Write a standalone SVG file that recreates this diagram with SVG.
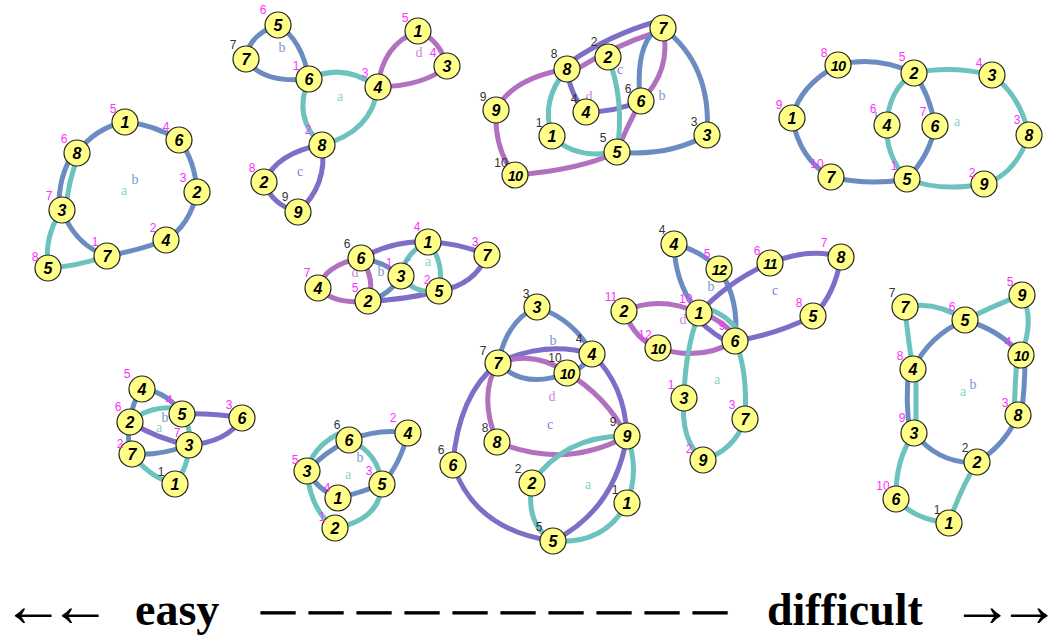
<svg xmlns="http://www.w3.org/2000/svg" width="1056" height="640" viewBox="0 0 1056 640">
<style>
.e{fill:none;stroke-width:5;stroke-linecap:round}
.a{stroke:#6cc3bd}.b{stroke:#6b8cc1}.c{stroke:#7f6ec8}.d{stroke:#b270c0}
.n circle{fill:#ffff88;stroke:#222;stroke-width:1.2}
.n text.v{font-family:"Liberation Sans",Arial,sans-serif;font-weight:bold;font-style:italic;font-size:16px;text-anchor:middle;fill:#000}
.n text.w{font-size:14.5px;letter-spacing:-0.8px}
.m{font-family:"Liberation Sans",Arial,sans-serif;font-size:12px;text-anchor:middle;fill:#ff30ff}
.k{fill:#333}
.r{font-family:"Liberation Serif","Times New Roman",serif;font-size:14px;text-anchor:middle}
.ra{fill:#8cd0cc}.rb{fill:#7a98d0}.rc{fill:#8878d4}.rd{fill:#c88ad4}
.t{font-family:"Liberation Serif","Times New Roman",serif;font-weight:bold;fill:#000}
.ar{font-family:"Liberation Serif","Times New Roman",serif;fill:#000;font-size:62px;letter-spacing:-15px}
</style>
<g id="connectors">
<!-- P1 -->
<path class="e b" d="M77,153 Q95,128 125,122"/>
<path class="e b" d="M125,122 Q155,125 179,140"/>
<path class="e b" d="M179,140 Q195,160 197,192"/>
<path class="e b" d="M197,192 Q190,225 166,240"/>
<path class="e b" d="M166,240 Q140,250 107,256"/>
<path class="e b" d="M62,210 Q75,245 107,256"/>
<path class="e b" d="M59,210 Q58,175 74,153"/>
<path class="e a" d="M79,155 Q68,180 66,210"/>
<path class="e a" d="M62,210 Q44,235 48,268"/>
<path class="e a" d="M48,268 Q75,267 107,256"/>
<!-- P2 -->
<path class="e b" d="M278,25 Q248,35 246,59"/>
<path class="e b" d="M246,59 Q262,84 309,79"/>
<path class="e b" d="M278,25 Q302,40 309,79"/>
<path class="e a" d="M309,79 Q343,62 378,87"/>
<path class="e a" d="M378,87 Q372,132 322,145"/>
<path class="e a" d="M322,145 Q292,118 309,79"/>
<path class="e d" d="M378,87 Q382,45 418,31"/>
<path class="e d" d="M418,31 Q440,40 447,66"/>
<path class="e d" d="M447,66 Q425,86 378,87"/>
<path class="e c" d="M322,145 Q278,152 264,182"/>
<path class="e c" d="M264,182 Q272,205 298,212"/>
<path class="e c" d="M298,212 Q328,185 322,145"/>
<!-- P3 -->
<path class="e d" d="M515,175 Q494,150 496,110"/>
<path class="e d" d="M496,110 Q512,78 567,69"/>
<path class="e c" d="M570,62 Q610,35 655,22"/>
<path class="e d" d="M572,72 Q615,45 657,32"/>
<path class="e d" d="M663,28 Q672,70 641,101"/>
<path class="e d" d="M641,101 Q625,130 617,152"/>
<path class="e d" d="M617,152 Q580,170 515,175"/>
<path class="e c" d="M567,69 Q570,95 586,112"/>
<path class="e c" d="M586,112 Q615,112 641,101"/>
<path class="e a" d="M567,69 Q540,100 552,136"/>
<path class="e a" d="M552,136 Q575,160 617,152"/>
<path class="e a" d="M608,57 Q625,100 617,152"/>
<path class="e b" d="M650,36 Q636,55 640,100"/>
<path class="e b" d="M663,28 Q712,65 707,135"/>
<path class="e b" d="M707,135 Q668,157 617,152"/>
<!-- P4 -->
<path class="e b" d="M838,65 Q875,55 914,73"/>
<path class="e b" d="M838,65 Q800,85 792,118"/>
<path class="e b" d="M792,118 Q800,160 831,177"/>
<path class="e b" d="M831,177 Q870,186 907,179"/>
<path class="e b" d="M907,179 Q930,155 935,126"/>
<path class="e b" d="M935,126 Q930,95 914,73"/>
<path class="e a" d="M914,73 Q950,65 992,75"/>
<path class="e a" d="M992,75 Q1020,95 1029,135"/>
<path class="e a" d="M1029,135 Q1015,175 984,184"/>
<path class="e a" d="M984,184 Q940,192 907,179"/>
<path class="e a" d="M907,179 Q885,155 887,125"/>
<path class="e a" d="M887,125 Q888,90 914,73"/>
<!-- P5 -->
<path class="e c" d="M361,258 Q395,240 428,242"/>
<path class="e c" d="M428,242 Q460,243 487,255"/>
<path class="e c" d="M487,255 Q475,285 439,291"/>
<path class="e c" d="M439,291 Q405,300 368,301"/>
<path class="e b" d="M361,258 Q385,262 401,276"/>
<path class="e b" d="M401,276 Q390,295 368,301"/>
<path class="e a" d="M428,242 Q405,252 401,276"/>
<path class="e a" d="M401,276 Q415,295 439,291"/>
<path class="e a" d="M428,242 Q445,262 439,291"/>
<path class="e d" d="M361,258 Q325,265 318,288"/>
<path class="e d" d="M318,288 Q335,305 368,301"/>
<path class="e d" d="M368,301 Q376,280 361,258"/>
<!-- P6 -->
<path class="e b" d="M674,244 Q700,250 719,269"/>
<path class="e b" d="M674,244 Q675,285 699,313"/>
<path class="e b" d="M719,269 Q740,300 735,341"/>
<path class="e c" d="M699,313 Q730,280 770,263"/>
<path class="e c" d="M770,263 Q810,247 841,257"/>
<path class="e c" d="M841,257 Q835,295 813,316"/>
<path class="e c" d="M813,316 Q775,335 735,341"/>
<path class="e d" d="M624,311 Q660,295 699,313"/>
<path class="e d" d="M624,311 Q635,340 658,348"/>
<path class="e d" d="M658,348 Q700,362 735,341"/>
<path class="e a" d="M699,313 Q685,350 684,398"/>
<path class="e a" d="M684,398 Q680,440 703,460"/>
<path class="e a" d="M703,460 Q735,450 745,419"/>
<path class="e a" d="M745,419 Q748,370 735,341"/>
<path class="e a" d="M703,308 Q726,312 741,335"/>
<path class="e d" d="M701,313 Q723,320 737,338"/>
<path class="e c" d="M697,319 Q715,336 733,345"/>
<!-- P7 -->
<path class="e b" d="M142,389 Q168,392 182,414"/>
<path class="e b" d="M142,389 Q132,402 130,422"/>
<path class="e c" d="M182,414 Q212,413 242,418"/>
<path class="e c" d="M242,418 Q228,442 189,445"/>
<path class="e c" d="M130,422 Q160,440 189,445"/>
<path class="e b" d="M130,422 Q126,440 132,454"/>
<path class="e b" d="M132,454 Q160,456 189,445"/>
<path class="e a" d="M130,422 Q148,406 176,408"/>
<path class="e a" d="M182,414 Q192,428 189,445"/>
<path class="e a" d="M189,445 Q188,468 175,484"/>
<path class="e a" d="M175,484 Q150,478 132,454"/>
<!-- P8 -->
<path class="e b" d="M349,440 Q380,428 408,433"/>
<path class="e b" d="M408,433 Q400,465 382,484"/>
<path class="e b" d="M382,484 Q360,493 338,498"/>
<path class="e b" d="M338,498 Q318,490 307,471"/>
<path class="e b" d="M307,471 Q325,452 349,440"/>
<path class="e a" d="M307,471 Q312,448 338,434"/>
<path class="e a" d="M349,440 Q378,452 382,484"/>
<path class="e a" d="M382,484 Q380,520 335,528"/>
<path class="e a" d="M335,528 Q310,510 307,471"/>
<!-- P9 -->
<path class="e b" d="M537,307 Q507,320 498,363"/>
<path class="e b" d="M537,307 Q575,320 592,354"/>
<path class="e b" d="M498,363 Q525,390 567,373"/>
<path class="e b" d="M567,373 Q583,370 592,354"/>
<path class="e c" d="M498,363 Q545,340 592,354"/>
<path class="e c" d="M592,354 Q625,385 627,436"/>
<path class="e c" d="M627,436 Q615,510 553,541"/>
<path class="e c" d="M553,541 Q475,530 453,465"/>
<path class="e c" d="M453,465 Q458,395 498,363"/>
<path class="e d" d="M498,363 Q535,350 567,373"/>
<path class="e d" d="M567,373 Q605,395 627,436"/>
<path class="e d" d="M627,436 Q565,470 497,442"/>
<path class="e d" d="M497,442 Q478,395 498,363"/>
<path class="e a" d="M627,436 Q565,435 532,483"/>
<path class="e a" d="M532,483 Q525,525 553,541"/>
<path class="e a" d="M553,541 Q605,545 627,503"/>
<path class="e a" d="M627,503 Q640,470 627,436"/>
<!-- P10 -->
<path class="e a" d="M905,307 Q935,300 965,320"/>
<path class="e a" d="M965,320 Q995,305 1022,295"/>
<path class="e a" d="M1022,295 Q1035,320 1021,355"/>
<path class="e a" d="M1017,355 Q1015,385 1014,415"/>
<path class="e b" d="M1025,357 Q1025,390 1021,415"/>
<path class="e a" d="M905,307 Q908,340 913,369"/>
<path class="e a" d="M916,369 L916,433"/>
<path class="e b" d="M909,369 Q905,400 910,433"/>
<path class="e a" d="M914,433 Q895,460 896,499"/>
<path class="e a" d="M896,499 Q915,520 949,523"/>
<path class="e a" d="M949,523 Q960,490 977,462"/>
<path class="e b" d="M965,320 Q930,335 913,369"/>
<path class="e b" d="M965,320 Q1000,330 1021,355"/>
<path class="e b" d="M1018,415 Q1005,445 977,462"/>
<path class="e b" d="M977,462 Q940,465 914,433"/>
</g>
<g id="regionlabels" class="r">
<text class="ra" x="124" y="195">a</text><text class="rb" x="135" y="184">b</text>
<text class="rb" x="282" y="52">b</text><text class="ra" x="340" y="101">a</text><text class="rd" x="419" y="57">d</text><text class="rc" x="300" y="176">c</text>
<text class="rb" x="662" y="100">b</text><text class="rc" x="620" y="74">c</text><text class="rd" x="589" y="101">d</text>
<text class="ra" x="957" y="126">a</text><text class="rb" x="878" y="122">b</text>
<text class="rd" x="355" y="277">d</text><text class="rb" x="381" y="276">b</text><text class="ra" x="428" y="266">a</text><text class="rc" x="408" y="266">c</text>
<text class="rb" x="711" y="291">b</text><text class="rc" x="775" y="295">c</text><text class="rd" x="683" y="324">d</text><text class="ra" x="717" y="384">a</text>
<text class="rb" x="165" y="422">b</text><text class="ra" x="159" y="432">a</text>
<text class="ra" x="348" y="479">a</text><text class="rb" x="360" y="462">b</text>
<text class="rb" x="553" y="345">b</text><text class="rd" x="552" y="401">d</text><text class="rc" x="550" y="429">c</text><text class="ra" x="588" y="489">a</text>
<text class="ra" x="963" y="396">a</text><text class="rb" x="973" y="389">b</text>
</g>
<!-- P1 nodes -->
<g id="p1n1" class="n"><circle cx="125" cy="122" r="13"/><text class="v" x="125" y="128">1</text><text class="m" x="113" y="113">5</text></g>
<g id="p1n6" class="n"><circle cx="179" cy="140" r="13"/><text class="v" x="179" y="146">6</text><text class="m" x="166" y="131">4</text></g>
<g id="p1n2" class="n"><circle cx="197" cy="192" r="13"/><text class="v" x="197" y="198">2</text><text class="m" x="183" y="182">3</text></g>
<g id="p1n4" class="n"><circle cx="166" cy="240" r="13"/><text class="v" x="166" y="246">4</text><text class="m" x="153" y="232">2</text></g>
<g id="p1n7" class="n"><circle cx="107" cy="256" r="13"/><text class="v" x="107" y="262">7</text><text class="m" x="95" y="246">1</text></g>
<g id="p1n5" class="n"><circle cx="48" cy="268" r="13"/><text class="v" x="48" y="274">5</text><text class="m" x="35" y="261">8</text></g>
<g id="p1n3" class="n"><circle cx="62" cy="210" r="13"/><text class="v" x="62" y="216">3</text><text class="m" x="49" y="200">7</text></g>
<g id="p1n8" class="n"><circle cx="77" cy="153" r="13"/><text class="v" x="77" y="159">8</text><text class="m" x="64" y="143">6</text></g>
<!-- P2 nodes -->
<g id="p2n5" class="n"><circle cx="278" cy="25" r="13"/><text class="v" x="278" y="31">5</text><text class="m" x="263" y="14">6</text></g>
<g id="p2n7" class="n"><circle cx="246" cy="59" r="13"/><text class="v" x="246" y="65">7</text><text class="m k" x="233" y="49">7</text></g>
<g id="p2n6" class="n"><circle cx="309" cy="79" r="13"/><text class="v" x="309" y="85">6</text><text class="m" x="296" y="70">1</text></g>
<g id="p2n4" class="n"><circle cx="378" cy="87" r="13"/><text class="v" x="378" y="93">4</text><text class="m" x="365" y="77">3</text></g>
<g id="p2n1" class="n"><circle cx="418" cy="31" r="13"/><text class="v" x="418" y="37">1</text><text class="m" x="405" y="22">5</text></g>
<g id="p2n3" class="n"><circle cx="447" cy="66" r="13"/><text class="v" x="447" y="72">3</text><text class="m" x="433" y="57">4</text></g>
<g id="p2n8" class="n"><circle cx="322" cy="145" r="13"/><text class="v" x="322" y="151">8</text><text class="m" x="308" y="134">2</text></g>
<g id="p2n2" class="n"><circle cx="264" cy="182" r="13"/><text class="v" x="264" y="188">2</text><text class="m" x="252" y="172">8</text></g>
<g id="p2n9" class="n"><circle cx="298" cy="212" r="13"/><text class="v" x="298" y="218">9</text><text class="m k" x="285" y="201">9</text></g>
<!-- P3 nodes -->
<g id="p3n7" class="n"><circle cx="663" cy="28" r="13"/><text class="v" x="663" y="34">7</text></g>
<g id="p3n2" class="n"><circle cx="608" cy="57" r="13"/><text class="v" x="608" y="63">2</text><text class="m k" x="594" y="46">2</text></g>
<g id="p3n8" class="n"><circle cx="567" cy="69" r="13"/><text class="v" x="567" y="75">8</text><text class="m k" x="554" y="58">8</text></g>
<g id="p3n6" class="n"><circle cx="641" cy="101" r="13"/><text class="v" x="641" y="107">6</text><text class="m k" x="628" y="93">6</text></g>
<g id="p3n4" class="n"><circle cx="586" cy="112" r="13"/><text class="v" x="586" y="118">4</text><text class="m k" x="574" y="103">4</text></g>
<g id="p3n9" class="n"><circle cx="496" cy="110" r="13"/><text class="v" x="496" y="116">9</text><text class="m k" x="483" y="101">9</text></g>
<g id="p3n1" class="n"><circle cx="552" cy="136" r="13"/><text class="v" x="552" y="142">1</text><text class="m k" x="539" y="127">1</text></g>
<g id="p3n3" class="n"><circle cx="707" cy="135" r="13"/><text class="v" x="707" y="141">3</text><text class="m k" x="694" y="126">3</text></g>
<g id="p3n5" class="n"><circle cx="617" cy="152" r="13"/><text class="v" x="617" y="158">5</text><text class="m k" x="603" y="142">5</text></g>
<g id="p3n10" class="n"><circle cx="515" cy="175" r="13"/><text class="v w" x="515" y="181">10</text><text class="m k" x="501" y="167">10</text></g>
<!-- P4 nodes -->
<g id="p4n10" class="n"><circle cx="838" cy="65" r="13"/><text class="v w" x="838" y="71">10</text><text class="m" x="824" y="57">8</text></g>
<g id="p4n2" class="n"><circle cx="914" cy="73" r="13"/><text class="v" x="914" y="79">2</text><text class="m" x="902" y="61">5</text></g>
<g id="p4n3" class="n"><circle cx="992" cy="75" r="13"/><text class="v" x="992" y="81">3</text><text class="m" x="979" y="67">4</text></g>
<g id="p4n1" class="n"><circle cx="792" cy="118" r="13"/><text class="v" x="792" y="124">1</text><text class="m" x="779" y="109">9</text></g>
<g id="p4n4" class="n"><circle cx="887" cy="125" r="13"/><text class="v" x="887" y="131">4</text><text class="m" x="873" y="113">6</text></g>
<g id="p4n6" class="n"><circle cx="935" cy="126" r="13"/><text class="v" x="935" y="132">6</text><text class="m" x="923" y="116">7</text></g>
<g id="p4n8" class="n"><circle cx="1029" cy="135" r="13"/><text class="v" x="1029" y="141">8</text><text class="m" x="1017" y="124">3</text></g>
<g id="p4n7" class="n"><circle cx="831" cy="177" r="13"/><text class="v" x="831" y="183">7</text><text class="m" x="817" y="168">10</text></g>
<g id="p4n5" class="n"><circle cx="907" cy="179" r="13"/><text class="v" x="907" y="185">5</text><text class="m" x="894" y="170">1</text></g>
<g id="p4n9" class="n"><circle cx="984" cy="184" r="13"/><text class="v" x="984" y="190">9</text><text class="m" x="972" y="177">2</text></g>
<!-- P5 nodes -->
<g id="p5n1" class="n"><circle cx="428" cy="242" r="13"/><text class="v" x="428" y="248">1</text><text class="m" x="417" y="231">4</text></g>
<g id="p5n7" class="n"><circle cx="487" cy="255" r="13"/><text class="v" x="487" y="261">7</text><text class="m" x="475" y="246">3</text></g>
<g id="p5n6" class="n"><circle cx="361" cy="258" r="13"/><text class="v" x="361" y="264">6</text><text class="m k" x="347" y="248">6</text></g>
<g id="p5n3" class="n"><circle cx="401" cy="276" r="13"/><text class="v" x="401" y="282">3</text><text class="m" x="389" y="267">1</text></g>
<g id="p5n4" class="n"><circle cx="318" cy="288" r="13"/><text class="v" x="318" y="294">4</text><text class="m" x="307" y="277">7</text></g>
<g id="p5n2" class="n"><circle cx="368" cy="301" r="13"/><text class="v" x="368" y="307">2</text><text class="m" x="355" y="292">5</text></g>
<g id="p5n5" class="n"><circle cx="439" cy="291" r="13"/><text class="v" x="439" y="297">5</text><text class="m" x="427" y="284">2</text></g>
<!-- P6 nodes -->
<g id="p6n4" class="n"><circle cx="674" cy="244" r="13"/><text class="v" x="674" y="250">4</text><text class="m k" x="662" y="234">4</text></g>
<g id="p6n12" class="n"><circle cx="719" cy="269" r="13"/><text class="v w" x="719" y="275">12</text><text class="m" x="707" y="258">5</text></g>
<g id="p6n11" class="n"><circle cx="770" cy="263" r="13"/><text class="v w" x="770" y="269">11</text><text class="m" x="757" y="255">6</text></g>
<g id="p6n8" class="n"><circle cx="841" cy="257" r="13"/><text class="v" x="841" y="263">8</text><text class="m" x="824" y="247">7</text></g>
<g id="p6n2" class="n"><circle cx="624" cy="311" r="13"/><text class="v" x="624" y="317">2</text><text class="m" x="611" y="301">11</text></g>
<g id="p6n1" class="n"><circle cx="699" cy="313" r="13"/><text class="v" x="699" y="319">1</text><text class="m" x="686" y="303">10</text></g>
<g id="p6n5" class="n"><circle cx="813" cy="316" r="13"/><text class="v" x="813" y="322">5</text><text class="m" x="799" y="307">8</text></g>
<g id="p6n10" class="n"><circle cx="658" cy="348" r="13"/><text class="v w" x="658" y="354">10</text><text class="m" x="645" y="339">12</text></g>
<g id="p6n6" class="n"><circle cx="735" cy="341" r="13"/><text class="v" x="735" y="347">6</text><text class="m" x="722" y="330">9</text></g>
<g id="p6n3" class="n"><circle cx="684" cy="398" r="13"/><text class="v" x="684" y="404">3</text><text class="m" x="671" y="389">1</text></g>
<g id="p6n7" class="n"><circle cx="745" cy="419" r="13"/><text class="v" x="745" y="425">7</text><text class="m" x="732" y="409">3</text></g>
<g id="p6n9" class="n"><circle cx="703" cy="460" r="13"/><text class="v" x="703" y="466">9</text><text class="m" x="689" y="453">2</text></g>
<!-- P7 nodes -->
<g id="p7n4" class="n"><circle cx="142" cy="389" r="13"/><text class="v" x="142" y="395">4</text><text class="m" x="127" y="378">5</text></g>
<g id="p7n5" class="n"><circle cx="182" cy="414" r="13"/><text class="v" x="182" y="420">5</text><text class="m" x="169" y="404">4</text></g>
<g id="p7n6" class="n"><circle cx="242" cy="418" r="13"/><text class="v" x="242" y="424">6</text><text class="m" x="229" y="409">3</text></g>
<g id="p7n2" class="n"><circle cx="130" cy="422" r="13"/><text class="v" x="130" y="428">2</text><text class="m" x="118" y="411">6</text></g>
<g id="p7n3" class="n"><circle cx="189" cy="445" r="13"/><text class="v" x="189" y="451">3</text><text class="m" x="177" y="437">7</text></g>
<g id="p7n7" class="n"><circle cx="132" cy="454" r="13"/><text class="v" x="132" y="460">7</text><text class="m" x="120" y="448">2</text></g>
<g id="p7n1" class="n"><circle cx="175" cy="484" r="13"/><text class="v" x="175" y="490">1</text><text class="m k" x="161" y="476">1</text></g>
<!-- P8 nodes -->
<g id="p8n6" class="n"><circle cx="349" cy="440" r="13"/><text class="v" x="349" y="446">6</text><text class="m k" x="337" y="429">6</text></g>
<g id="p8n4" class="n"><circle cx="408" cy="433" r="13"/><text class="v" x="408" y="439">4</text><text class="m" x="393" y="422">2</text></g>
<g id="p8n3" class="n"><circle cx="307" cy="471" r="13"/><text class="v" x="307" y="477">3</text><text class="m" x="295" y="464">5</text></g>
<g id="p8n5" class="n"><circle cx="382" cy="484" r="13"/><text class="v" x="382" y="490">5</text><text class="m" x="369" y="475">3</text></g>
<g id="p8n1" class="n"><circle cx="338" cy="498" r="13"/><text class="v" x="338" y="504">1</text><text class="m" x="327" y="492">4</text></g>
<g id="p8n2" class="n"><circle cx="335" cy="528" r="13"/><text class="v" x="335" y="534">2</text><text class="m" x="322" y="521">1</text></g>
<!-- P9 nodes -->
<g id="p9n3" class="n"><circle cx="537" cy="307" r="13"/><text class="v" x="537" y="313">3</text><text class="m k" x="526" y="298">3</text></g>
<g id="p9n4" class="n"><circle cx="592" cy="354" r="13"/><text class="v" x="592" y="360">4</text><text class="m k" x="579" y="343">4</text></g>
<g id="p9n7" class="n"><circle cx="498" cy="363" r="13"/><text class="v" x="498" y="369">7</text><text class="m k" x="483" y="355">7</text></g>
<g id="p9n10" class="n"><circle cx="567" cy="373" r="13"/><text class="v w" x="567" y="379">10</text><text class="m k" x="555" y="362">10</text></g>
<g id="p9n9" class="n"><circle cx="627" cy="436" r="13"/><text class="v" x="627" y="442">9</text><text class="m k" x="613" y="426">9</text></g>
<g id="p9n8" class="n"><circle cx="497" cy="442" r="13"/><text class="v" x="497" y="448">8</text><text class="m k" x="485" y="432">8</text></g>
<g id="p9n6" class="n"><circle cx="453" cy="465" r="13"/><text class="v" x="453" y="471">6</text><text class="m k" x="441" y="454">6</text></g>
<g id="p9n2" class="n"><circle cx="532" cy="483" r="13"/><text class="v" x="532" y="489">2</text><text class="m k" x="518" y="473">2</text></g>
<g id="p9n1" class="n"><circle cx="627" cy="503" r="13"/><text class="v" x="627" y="509">1</text><text class="m k" x="615" y="494">1</text></g>
<g id="p9n5" class="n"><circle cx="553" cy="541" r="13"/><text class="v" x="553" y="547">5</text><text class="m k" x="539" y="531">5</text></g>
<!-- P10 nodes -->
<g id="p10n9" class="n"><circle cx="1022" cy="295" r="13"/><text class="v" x="1022" y="301">9</text><text class="m" x="1010" y="286">5</text></g>
<g id="p10n7" class="n"><circle cx="905" cy="307" r="13"/><text class="v" x="905" y="313">7</text><text class="m k" x="892" y="297">7</text></g>
<g id="p10n5" class="n"><circle cx="965" cy="320" r="13"/><text class="v" x="965" y="326">5</text><text class="m" x="952" y="311">6</text></g>
<g id="p10n10" class="n"><circle cx="1021" cy="355" r="13"/><text class="v w" x="1021" y="361">10</text><text class="m" x="1008" y="346">4</text></g>
<g id="p10n4" class="n"><circle cx="913" cy="369" r="13"/><text class="v" x="913" y="375">4</text><text class="m" x="900" y="360">8</text></g>
<g id="p10n8" class="n"><circle cx="1018" cy="415" r="13"/><text class="v" x="1018" y="421">8</text><text class="m" x="1005" y="407">3</text></g>
<g id="p10n3" class="n"><circle cx="914" cy="433" r="13"/><text class="v" x="914" y="439">3</text><text class="m" x="902" y="422">9</text></g>
<g id="p10n2" class="n"><circle cx="977" cy="462" r="13"/><text class="v" x="977" y="468">2</text><text class="m k" x="965" y="452">2</text></g>
<g id="p10n6" class="n"><circle cx="896" cy="499" r="13"/><text class="v" x="896" y="505">6</text><text class="m" x="883" y="490">10</text></g>
<g id="p10n1" class="n"><circle cx="949" cy="523" r="13"/><text class="v" x="949" y="529">1</text><text class="m k" x="937" y="514">1</text></g>
<!-- bottom scale -->
<g id="scale">
<text class="ar" x="2" y="626">←←</text>
<text class="t" x="135" y="625" font-size="46">easy</text>
<text class="t" x="261" y="621" font-size="34" letter-spacing="14" stroke="#000" stroke-width="0.8">——————————</text>
<text class="t" x="767" y="625" font-size="46">difficult</text>
<text class="ar" x="951" y="626">→→</text>
</g>
</svg>
